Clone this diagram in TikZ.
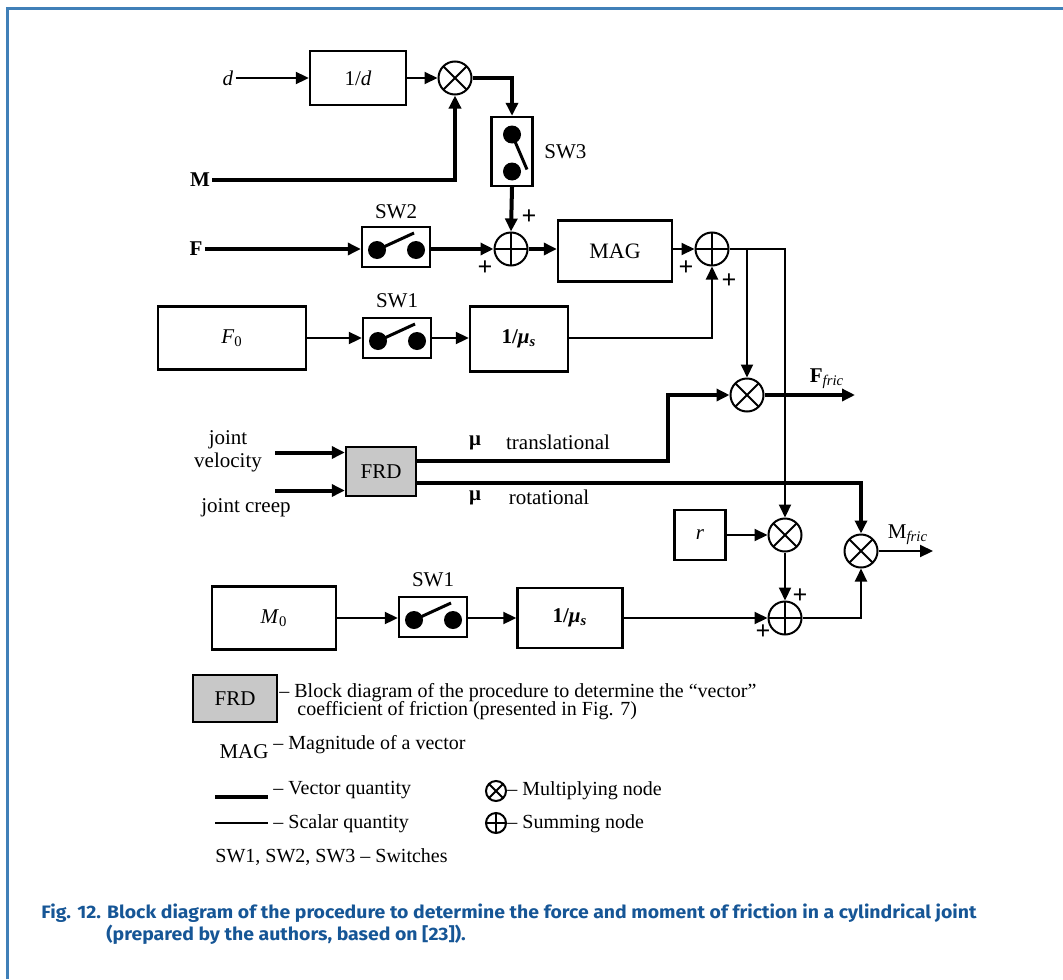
\documentclass[tikz,border=0pt]{standalone}
\usepackage{fontspec}
\setmainfont{Liberation Serif}
\newfontfamily\capfont[FakeStretch=1.08]{Fira Sans}
\usetikzlibrary{arrows.meta,calc}
\definecolor{capblue}{RGB}{22,86,150}
\definecolor{frameblue}{RGB}{64,128,184}
\definecolor{frdgray}{RGB}{200,200,200}
\newcommand\myswh[1]{%
  \fill ([shift={(-9.5pt,-1.5pt)}]#1.center) circle (4.5pt)
        ([shift={(10pt,-1.5pt)}]#1.center) circle (4.5pt);
  \draw[line width=1.5pt] ([shift={(-9.5pt,-1.5pt)}]#1.center) -- ([shift={(9pt,7pt)}]#1.center);}
\newcommand\myswv[1]{%
  \fill ([shift={(0pt,8.5pt)}]#1.center) circle (4.5pt)
        ([shift={(0pt,-10pt)}]#1.center) circle (4.5pt);
  \draw[line width=1.5pt] ([shift={(0pt,8.5pt)}]#1.center) -- ([shift={(7.5pt,-9pt)}]#1.center);}
\begin{document}
\begin{tikzpicture}[x=0.5pt,y=-0.5pt,
  font=\fontsize{10.5}{12.5}\selectfont,
  vec/.style={line width=2pt},
  sca/.style={line width=1pt},
  arr/.style={-{Triangle[length=6.5pt,width=6pt]}},
  blk/.style={draw, line width=1.2pt, rectangle, inner sep=0pt},
  swbox/.style={draw, line width=1.2pt, rectangle, inner sep=0pt, minimum width=34pt, minimum height=20pt},
  mult/.style={circle, draw, line width=1pt, minimum size=16.5pt, inner sep=0pt,
    path picture={\draw[line width=1pt] (path picture bounding box.north west) -- (path picture bounding box.south east)
      (path picture bounding box.north east) -- (path picture bounding box.south west);}},
  summ/.style={circle, draw, line width=1pt, minimum size=16.5pt, inner sep=0pt,
    path picture={\draw[line width=1pt] (path picture bounding box.north) -- (path picture bounding box.south)
      (path picture bounding box.west) -- (path picture bounding box.east);}},
  lbl/.style={inner sep=1pt},
  plus/.style={inner sep=0pt, font=\bfseries\fontsize{13}{13}\selectfont},
  leg/.style={anchor=west, inner sep=0pt, font=\fontsize{10}{12}\selectfont},
  captxt/.style={anchor=base west, inner sep=0pt, text=capblue, font=\capfont\bfseries\fontsize{9}{11}\selectfont}]
\useasboundingbox (0,0) rectangle (1063,979);
% frame
\draw[frameblue, line width=1.5pt] (7,979) -- (7,8.5) -- (1063,8.5);

% ---------- top row ----------
\node[lbl] (dl) at (228,78) {\textit{d}};
\node[blk, minimum width=48pt, minimum height=27pt] (b1d) at (358,78) {1/\textit{d}};
\node[mult] (m1) at (455,78) {};
\node[blk, minimum width=20.5pt, minimum height=34.5pt] (sw3) at (512,151.5) {};
\myswv{sw3}
\node[lbl, anchor=west] (sw3l) at (542,152) {SW3};
\node[lbl] (Ml) at (200,180) {\textbf{M}};

% ---------- F row ----------
\node[lbl] (Fl) at (196,249) {\textbf{F}};
\node[swbox] (sw2) at (396,247) {};
\myswh{sw2}
\node[lbl] (sw2l) at (396,212) {SW2};
\node[summ] (s1) at (511,249) {};
\node[blk, minimum width=57pt, minimum height=30.5pt, font=\fontsize{11}{13}\selectfont] (mag) at (615,251) {MAG};
\node[summ] (s2) at (712,249) {};
\node[plus] (p1) at (529,217) {+};
\node[plus] (p2) at (485,268) {+};
\node[plus] (p3) at (686,268) {+};
\node[plus] (p4) at (729,281) {+};

% ---------- F0 row ----------
\node[blk, minimum width=74pt, minimum height=31.5pt] (F0) at (232,338) {\textit{F}\textsubscript{0}};
\node[swbox] (sw1a) at (397,338) {};
\myswh{sw1a}
\node[lbl] (sw1al) at (397,301) {SW1};
\node[blk, minimum width=49pt, minimum height=32.5pt] (mu1) at (519,339) {\textbf{1/\textit{μ}\textsubscript{\textit{s}}}};

% ---------- friction multiply ----------
\node[mult] (m2) at (747,395) {};
\node[lbl, anchor=south] (ffl) at (827,391) {\textbf{F}\textsubscript{\textit{fric}}};
\coordinate (ffend) at (855,395);

% ---------- FRD ----------
\node[blk, fill=frdgray, minimum width=35pt, minimum height=24.5pt] (frd) at (381,471.5) {FRD};
\node[lbl, align=center, font=\fontsize{10.5}{11.5}\selectfont] (jvl) at (228,451) {joint\\velocity};
\node[lbl] (jcl) at (246,508) {joint creep};
\coordinate (jv) at (275,452.5);
\coordinate (jc) at (275,490.5);
\node[lbl] (mut) at (475,443) {\textbf{μ}};
\node[lbl] (trl) at (558,442) {translational};
\node[lbl] (mur) at (475,498) {\textbf{μ}};
\node[lbl] (rol) at (549,497) {rotational};
\coordinate (tb) at (668,395);

% ---------- r / moment ----------
\node[blk, minimum width=25.5pt, minimum height=25pt] (r) at (700,535) {\textit{r}};
\node[mult] (m3) at (785,535) {};
\node[summ] (s3) at (785,618) {};
\node[mult] (m4) at (861,551) {};
\node[lbl, anchor=south] (mfl) at (908,547) {M\textsubscript{\textit{fric}}};
\coordinate (mfend) at (933,551);
\node[plus] (p5) at (800,596) {+};
\node[plus] (p6) at (763,632) {+};

% ---------- M0 row ----------
\node[blk, minimum width=62pt, minimum height=31.5pt] (M0) at (274,618) {\textit{M}\textsubscript{0}};
\node[swbox] (sw1b) at (433,617) {};
\myswh{sw1b}
\node[lbl] (sw1bl) at (433,580) {SW1};
\node[blk, minimum width=52.5pt, minimum height=30pt] (mu2) at (570,618) {\textbf{1/\textit{μ}\textsubscript{\textit{s}}}};

% ---------- connectors ----------
\draw[sca,arr] (dl.east) -- (b1d.west);
\draw[sca,arr] (b1d.east) -- (m1.west);
\draw[vec,arr] (m1.east) -| (sw3.north);
\draw[vec,arr] (Ml.east) -| (m1.south);
\draw[vec,arr] (sw3.south) -- (s1.north);
\draw[vec,arr] (Fl.east) -- (sw2.west |- Fl.east);
\draw[vec,arr] (sw2.east |- Fl.east) -- (s1.west);
\draw[vec,arr] (s1.east) -- (mag.west |- s1.east);
\draw[sca,arr] (mag.east |- s2.west) -- (s2.west);
\draw[sca,arr] (F0.east) -- (sw1a.west);
\draw[sca,arr] (sw1a.east) -- (mu1.west |- sw1a.east);
\draw[sca,arr] (mu1.east |- sw1a.east) -| (s2.south);
\draw[sca,arr] (s2.east) -| (m3.north);
\draw[sca,arr] (s2.east -| m2.north) -- (m2.north);
\draw[vec,arr] (m2.east) -- (ffend);
\draw[vec,arr] (jv) -- (frd.west |- jv);
\draw[vec,arr] (jc) -- (frd.west |- jc);
\draw[vec,arr] ([yshift=5.5pt]frd.east) -| (tb) -- (m2.west);
\draw[vec,arr] ([yshift=-5.5pt]frd.east) -| (m4.north);
\draw[sca,arr] (r.east) -- (m3.west);
\draw[sca,arr] (m3.south) -- (s3.north);
\draw[sca,arr] (s3.east) -| (m4.south);
\draw[sca,arr] (m4.east) -- (mfend);
\draw[sca,arr] (M0.east) -- (sw1b.west |- M0.east);
\draw[sca,arr] (sw1b.east |- M0.east) -- (mu2.west);
\draw[sca,arr] (mu2.east) -- (s3.west);

% ---------- legend ----------
\node[blk, fill=frdgray, minimum width=42pt, minimum height=23.5pt] (lfrd) at (235,698.5) {FRD};
\node[leg] (lt1) at (279,693) {– Block diagram of the procedure to determine the “vector”};
\node[leg] (lt2) at (297,711) {coefficient of friction (presented in Fig. 7)};
\node[inner sep=0pt, font=\fontsize{10.5}{13}\selectfont] (lmag) at (244,752) {MAG};
\node[leg] (lt3) at (273,745) {– Magnitude of a vector};
\draw[vec] (215,797) -- (268,797);
\node[leg] (lt4) at (273,790) {– Vector quantity};
\draw[sca] (215,823) -- (268,823);
\node[leg] (lt5) at (273,824) {– Scalar quantity};
\node[mult, minimum size=10pt] (lm) at (496,791) {};
\node[leg] (lt6) at (507,791) {– Multiplying node};
\node[summ, minimum size=10pt] (ls) at (496,823) {};
\node[leg] (lt7) at (507,824) {– Summing node};
\node[leg] (lt8) at (215,857) {SW1,\ SW2,\ SW3 – Switches};

% ---------- caption ----------
\node[captxt] (c1) at (41,918) {Fig. 12. Block diagram of the procedure to determine the force and moment of friction in a cylindrical joint};
\node[captxt] (c2) at (106,940) {(prepared by the authors, based on [23]).};
\end{tikzpicture}
\end{document}
